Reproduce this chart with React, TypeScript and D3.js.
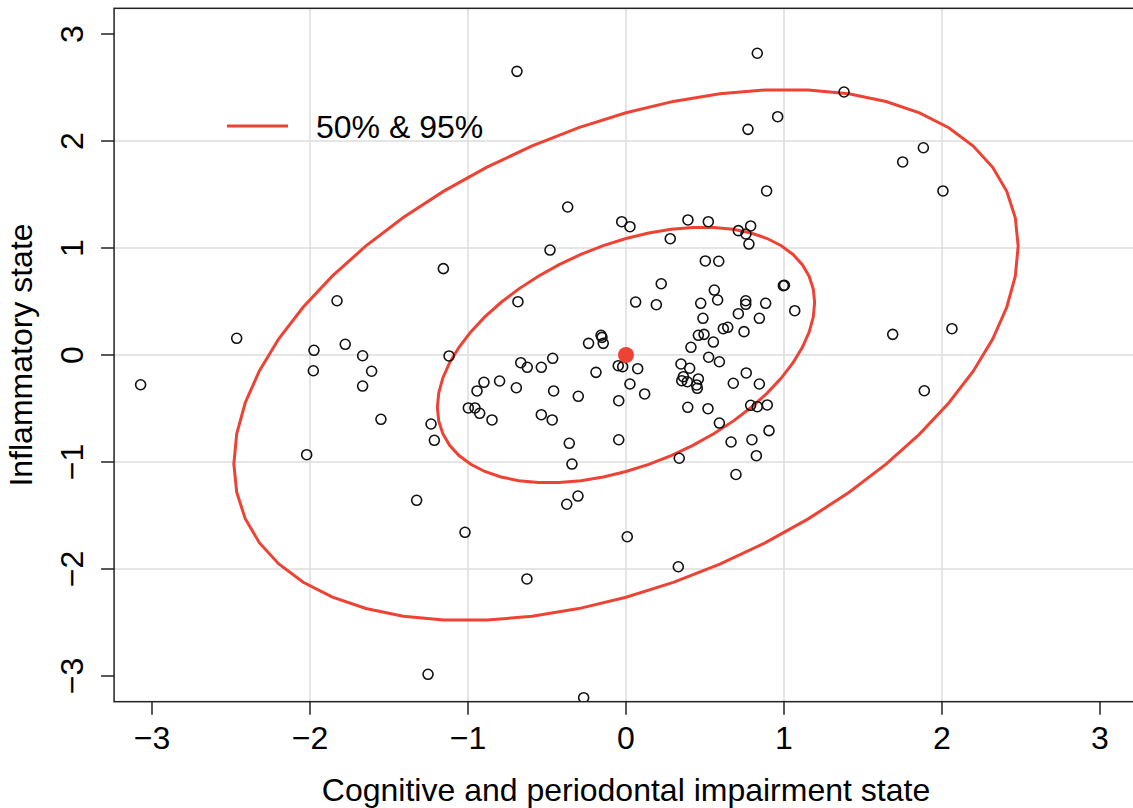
import * as d3 from "d3"
import { useEffect, useRef } from "react"

// observed states: [cognitive & periodontal impairment, inflammatory]
const states: [number, number][] = [
  [0.89, 1.533], [-0.369, 1.383], [-0.027, 1.246], [0.025, 1.199], [0.392, 1.262],
  [0.521, 1.246], [0.711, 1.162], [0.789, 1.206], [0.759, 1.131], [0.778, 1.037],
  [0.28, 1.087], [-0.481, 0.981], [-1.156, 0.807], [0.502, 0.879], [0.587, 0.876],
  [0.223, 0.666], [0.996, 0.648], [1.003, 0.652], [-0.684, 0.498], [0.061, 0.495],
  [0.192, 0.47], [0.559, 0.607], [0.58, 0.514], [0.473, 0.483], [0.758, 0.507],
  [0.758, 0.474], [0.884, 0.483], [1.068, 0.414], [0.711, 0.386], [0.487, 0.343],
  [0.844, 0.343], [0.616, 0.246], [0.644, 0.259], [0.747, 0.218], [0.458, 0.184],
  [0.494, 0.193], [0.553, 0.121], [0.411, 0.072], [-0.158, 0.184], [-0.152, 0.165],
  [-0.144, 0.109], [-0.237, 0.109], [-1.12, -0.009], [-0.666, -0.072], [-0.625, -0.115],
  [-0.536, -0.115], [-0.464, -0.031], [-0.049, -0.1], [-0.021, -0.109], [0.074, -0.128],
  [-0.19, -0.162], [0.348, -0.084], [0.403, -0.124], [0.523, -0.021], [0.591, -0.063],
  [0.761, -0.168], [0.363, -0.203], [0.353, -0.24], [0.388, -0.25], [0.458, -0.224],
  [0.447, -0.28], [0.451, -0.311], [0.679, -0.264], [0.844, -0.271], [-0.899, -0.255],
  [-0.943, -0.336], [-0.8, -0.243], [-0.694, -0.306], [-0.458, -0.336], [-0.302, -0.386],
  [0.025, -0.271], [0.118, -0.364], [-0.046, -0.427], [-0.998, -0.495], [-0.956, -0.495],
  [-0.926, -0.545], [-0.848, -0.607], [-0.536, -0.558], [-0.467, -0.607], [0.391, -0.489],
  [0.519, -0.502], [0.789, -0.47], [0.831, -0.483], [0.894, -0.467], [0.591, -0.636],
  [-1.234, -0.645], [-1.213, -0.797], [-0.359, -0.825], [-0.046, -0.792], [0.905, -0.707],
  [0.665, -0.813], [0.797, -0.792], [0.825, -0.941], [-0.342, -1.019], [0.337, -0.965],
  [0.696, -1.117], [-1.829, 0.507], [-2.464, 0.156], [-1.777, 0.1], [-1.975, 0.044],
  [-1.979, -0.147], [-1.667, -0.007], [-1.61, -0.152], [-1.667, -0.29], [-1.551, -0.601],
  [-2.021, -0.932], [-3.072, -0.278], [-1.325, -1.358], [-1.019, -1.657], [-0.375, -1.395],
  [-0.304, -1.318], [0.008, -1.698], [0.331, -1.979], [-0.627, -2.093], [-1.253, -2.984],
  [-0.268, -3.203], [-0.69, 2.651], [0.831, 2.82], [1.38, 2.458], [0.96, 2.227],
  [0.772, 2.109], [1.882, 1.937], [1.751, 1.804], [2.006, 1.533], [1.688, 0.193],
  [2.063, 0.246], [1.888, -0.334],
]

const center: [number, number] = [0, 0]
const sdX = 1.014
const sdY = 1.014
const rho = 0.41
const levels = [0.5, 0.95]

const ticks = [-3, -2, -1, 0, 1, 2, 3]
const gridTicks = [-2, -1, 0, 1, 2]

const RED = "#ee4234"
const FONT = "'Liberation Sans', Arial, Helvetica, sans-serif"

export default function App() {
  const svgRef = useRef<SVGSVGElement>(null)

  useEffect(() => {
    if (!svgRef.current) return
    const svg = d3.select(svgRef.current)
    svg.selectAll("*").remove()

    const x = d3.scaleLinear().domain([-3, 3]).range([152, 1100])
    const y = d3.scaleLinear().domain([-3, 3]).range([676, 34])
    const lim = 3.24
    const left = x(-lim), right = x(lim), top = y(lim), bottom = y(-lim)

    svg.append("defs").append("clipPath").attr("id", "plotclip")
      .append("rect")
      .attr("x", left).attr("y", top)
      .attr("width", right - left).attr("height", bottom - top)

    // grid
    const grid = svg.append("g").attr("stroke", "#dcdcdc").attr("stroke-width", 1.5)
    grid.selectAll("line.v").data(gridTicks).join("line")
      .attr("x1", (d) => x(d)).attr("x2", (d) => x(d))
      .attr("y1", top).attr("y2", bottom)
    grid.selectAll("line.h").data(gridTicks).join("line")
      .attr("class", "h")
      .attr("y1", (d) => y(d)).attr("y2", (d) => y(d))
      .attr("x1", left).attr("x2", right)

    const plot = svg.append("g").attr("clip-path", "url(#plotclip)")

    // ellipses from bivariate normal contours
    const line = d3.line<[number, number]>()
      .x((d) => x(d[0])).y((d) => y(d[1]))
      .curve(d3.curveLinearClosed)
    levels.forEach((p) => {
      const c = Math.sqrt(-2 * Math.log(1 - p))
      const pts: [number, number][] = d3.range(52).map((i) => {
        const t = (i / 52) * 2 * Math.PI
        const u = Math.cos(t), v = Math.sin(t)
        return [
          center[0] + c * sdX * u,
          center[1] + c * sdY * (rho * u + Math.sqrt(1 - rho * rho) * v),
        ]
      })
      plot.append("path")
        .attr("d", line(pts))
        .attr("fill", "none")
        .attr("stroke", RED)
        .attr("stroke-width", 3)
    })

    plot.selectAll("circle.pt").data(states).join("circle")
      .attr("class", "pt")
      .attr("cx", (d) => x(d[0])).attr("cy", (d) => y(d[1]))
      .attr("r", 5)
      .attr("fill", "none")
      .attr("stroke", "#111")
      .attr("stroke-width", 1.6)

    plot.append("circle")
      .attr("cx", x(center[0])).attr("cy", y(center[1]))
      .attr("r", 8).attr("fill", RED)

    // box
    svg.append("rect")
      .attr("x", left).attr("y", top)
      .attr("width", right - left).attr("height", bottom - top)
      .attr("fill", "none").attr("stroke", "#222").attr("stroke-width", 1.5)

    // x axis
    const xa = svg.append("g")
    xa.selectAll("line").data(ticks).join("line")
      .attr("x1", (d) => x(d)).attr("x2", (d) => x(d))
      .attr("y1", bottom).attr("y2", bottom + 13)
      .attr("stroke", "#222").attr("stroke-width", 1.5)
    xa.selectAll("text").data(ticks).join("text")
      .attr("x", (d) => x(d)).attr("y", 749)
      .attr("text-anchor", "middle")
      .style("font-family", FONT).style("font-size", "32px")
      .text((d) => (d < 0 ? "\u2212" + Math.abs(d) : String(d)))

    // y axis
    const ya = svg.append("g")
    ya.selectAll("line").data(ticks).join("line")
      .attr("y1", (d) => y(d)).attr("y2", (d) => y(d))
      .attr("x1", left).attr("x2", left - 13)
      .attr("stroke", "#222").attr("stroke-width", 1.5)
    ya.selectAll("text").data(ticks).join("text")
      .attr("transform", (d) => `translate(83,${y(d)}) rotate(-90)`)
      .attr("text-anchor", "middle")
      .style("font-family", FONT).style("font-size", "32px")
      .text((d) => (d < 0 ? "\u2212" + Math.abs(d) : String(d)))

    // axis titles
    svg.append("text")
      .attr("x", (left + right) / 2).attr("y", 801)
      .attr("text-anchor", "middle")
      .style("font-family", FONT).style("font-size", "32px")
      .text("Cognitive and periodontal impairment state")
    svg.append("text")
      .attr("transform", `translate(32,${(top + bottom) / 2}) rotate(-90)`)
      .attr("text-anchor", "middle")
      .style("font-family", FONT).style("font-size", "32px")
      .text("Inflammatory state")

    // legend
    svg.append("line")
      .attr("x1", 227).attr("x2", 288).attr("y1", 126).attr("y2", 126)
      .attr("stroke", RED).attr("stroke-width", 3)
    svg.append("text")
      .attr("x", 316).attr("y", 138)
      .style("font-family", FONT).style("font-size", "32px")
      .text("50% & 95%")
  }, [])

  return (
    <svg
      ref={svgRef}
      width={1133}
      height={808}
      style={{ position: "absolute", left: 0, top: 0, background: "#fff" }}
    />
  )
}
